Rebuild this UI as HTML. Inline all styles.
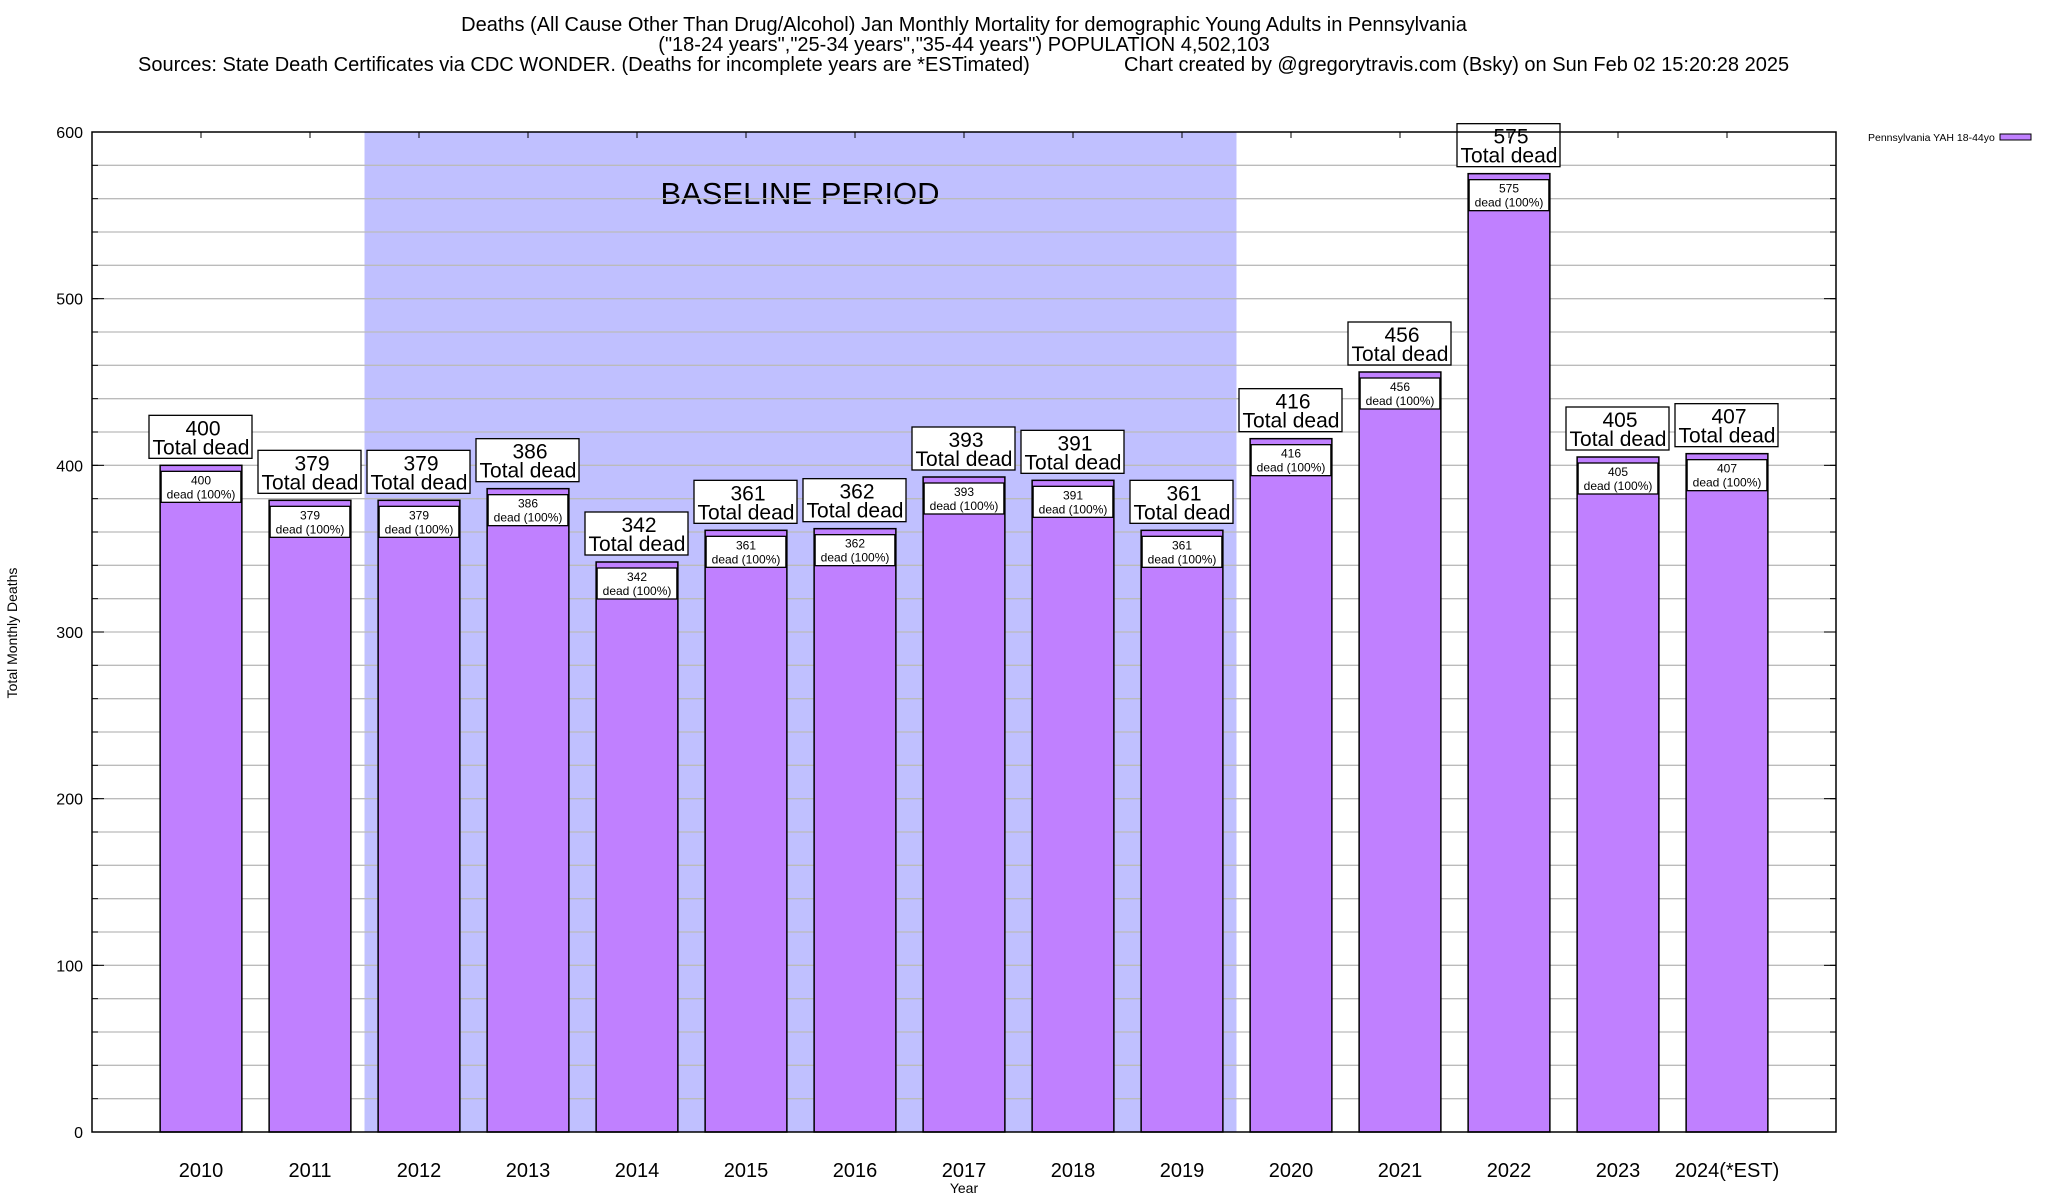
<!DOCTYPE html>
<html><head><meta charset="utf-8"><style>
html,body{margin:0;padding:0;background:#fff;}
svg{display:block;font-family:"Liberation Sans",sans-serif;}
</style></head><body>
<svg id="chart" width="2048" height="1200" viewBox="0 0 2048 1200">
<g font-size="20" fill="#000">
<text x="964" y="31" text-anchor="middle">Deaths (All Cause Other Than Drug/Alcohol) Jan Monthly Mortality for demographic Young Adults in Pennsylvania</text>
<text x="964" y="51" text-anchor="middle">("18-24 years","25-34 years","35-44 years") POPULATION 4,502,103</text>
<text x="138" y="71">Sources: State Death Certificates via CDC WONDER. (Deaths for incomplete years are *ESTimated)</text>
<text x="1124" y="71">Chart created by @gregorytravis.com (Bsky) on Sun Feb 02 15:20:28 2025</text>
</g>
<g id="grid"></g>
<g id="bars"></g>
<g id="axes"></g>
<text x="17" y="633" transform="rotate(-90 17 633)" text-anchor="middle" font-size="14">Total Monthly Deaths</text>
<text x="964" y="1193" text-anchor="middle" font-size="14">Year</text>
<g>
<text x="1868" y="141" font-size="10.5">Pennsylvania YAH 18-44yo</text>
<rect x="2000" y="134" width="31" height="6" fill="#c080ff" stroke="#000" stroke-width="1"/>
</g>
</svg>
<script>
const categories = ["2010","2011","2012","2013","2014","2015","2016","2017","2018","2019","2020","2021","2022","2023","2024(*EST)"];
const deaths = [400,379,379,386,342,361,362,393,391,361,416,456,575,405,407];
const yTicks = [0,100,200,300,400,500,600];
const baselineStart = 1.5, baselineEnd = 9.5;

const NS = "http://www.w3.org/2000/svg";
const L = 92, R = 1836, T = 132, B = 1132;
const yMin = 0, yMax = 600;
const slot = (R - L) / (categories.length + 1);
function xPos(i){ return L + slot * (i + 1); }
function yPos(v){ return B - (v - yMin) / (yMax - yMin) * (B - T); }
function mk(tag, attrs, parent, txt){
  const e = document.createElementNS(NS, tag);
  for (const k in attrs) e.setAttribute(k, attrs[k]);
  if (txt !== undefined) e.textContent = txt;
  parent.appendChild(e);
  return e;
}
const grid = document.getElementById('grid');
const bars = document.getElementById('bars');
const axes = document.getElementById('axes');

const band = mk('rect', {x: xPos(baselineStart), y: T, width: xPos(baselineEnd) - xPos(baselineStart), height: B - T, fill: '#c0c0ff'}, grid);


const bt = mk('text', {x: 800, y: 204, 'font-size': 31, 'text-anchor': 'middle'}, grid, 'BASELINE PERIOD');



for (let v = yMin + 20; v < yMax; v += 20) {
  const g = mk('line', {x1: L, x2: R, y1: yPos(v), y2: yPos(v), stroke: '#bbbbbb', 'stroke-width': 1.3}, grid);
  
  
  mk('line', {x1: L, x2: L + 6, y1: yPos(v), y2: yPos(v), stroke: '#000'}, axes);
  mk('line', {x1: R - 6, x2: R, y1: yPos(v), y2: yPos(v), stroke: '#000'}, axes);
}

deaths.forEach((v, i) => {
  const cx = xPos(i), w = slot * 0.75, x0 = cx - w / 2, yt = yPos(v);
  const g = mk('g', {}, bars);
  
  
  mk('rect', {x: x0, y: yt, width: w, height: B - yt, fill: '#c080ff', stroke: '#000', 'stroke-width': 1.5}, g);
  mk('rect', {x: x0 + 1, y: yt + 6, width: w - 2, height: 31, fill: '#fff', stroke: '#000', 'stroke-width': 1.3}, g);
  mk('text', {x: cx, y: yt + 19, 'font-size': 12, 'text-anchor': 'middle'}, g, String(v));
  mk('text', {x: cx, y: yt + 33, 'font-size': 12, 'text-anchor': 'middle'}, g, 'dead (100%)');
  const lb = mk('g', {}, bars);
  
  
  mk('rect', {x: cx - 52, y: yt - 50, width: 103, height: 43, fill: '#fff', stroke: '#000', 'stroke-width': 1.3}, lb);
  mk('text', {x: cx + 2, y: yt - 30, 'font-size': 21, 'text-anchor': 'middle'}, lb, String(v));
  mk('text', {x: cx, y: yt - 11, 'font-size': 21, 'text-anchor': 'middle'}, lb, 'Total dead');
  const xl = mk('text', {x: cx, y: 1177, 'font-size': 20, 'text-anchor': 'middle'}, axes, categories[i]);
  
  
  mk('line', {x1: cx, x2: cx, y1: T, y2: T + 6, stroke: '#000'}, axes);
});

yTicks.forEach(v => {
  const t = mk('text', {x: 83, y: yPos(v) + 6, 'font-size': 16, 'text-anchor': 'end'}, axes, String(v));
  
  
  mk('line', {x1: L, x2: L + 12, y1: yPos(v), y2: yPos(v), stroke: '#000'}, axes);
  mk('line', {x1: R - 12, x2: R, y1: yPos(v), y2: yPos(v), stroke: '#000'}, axes);
});
const frame = mk('rect', {x: L, y: T, width: R - L, height: B - T, fill: 'none', stroke: '#000', 'stroke-width': 1.5}, axes);


</script>
</body></html>
